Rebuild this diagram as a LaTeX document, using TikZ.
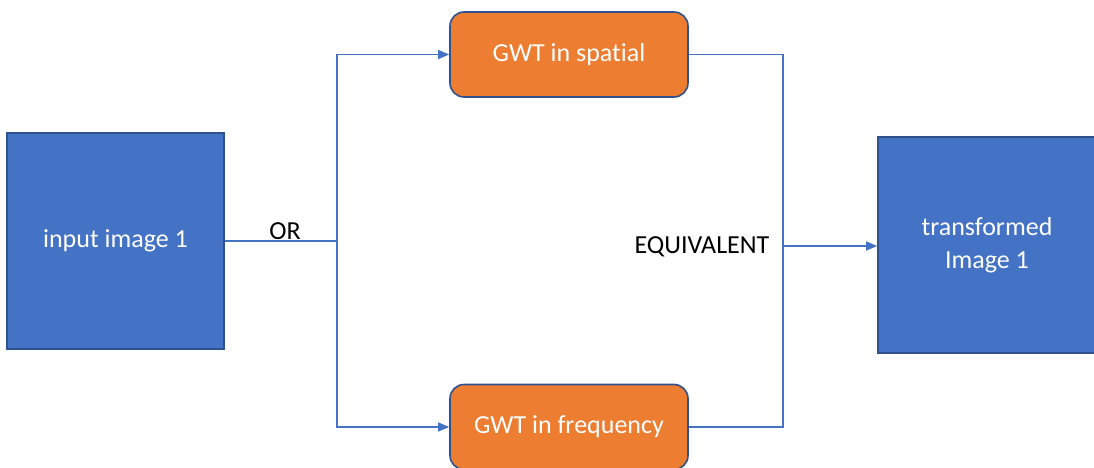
\documentclass[tikz,border=0pt]{standalone}
\usepackage{fontspec}
\setmainfont{Carlito}[Ligatures=NoCommon]
\usetikzlibrary{arrows.meta,positioning}
\definecolor{boxblue}{HTML}{4472C4}
\definecolor{edgeblue}{HTML}{2F528F}
\definecolor{boxorange}{HTML}{ED7D31}
\definecolor{lineblue}{HTML}{4472C4}
\begin{document}
\begin{tikzpicture}[x=1pt,y=-1pt,
  bluebox/.style={draw=edgeblue,line width=1.6pt,fill=boxblue,text=white,font=\fontsize{26}{33}\selectfont,align=center,inner sep=0pt},
  orangebox/.style={draw=edgeblue,line width=1.6pt,fill=boxorange,text=white,rounded corners=14pt,font=\fontsize{26}{33}\selectfont,minimum width=238pt,minimum height=85pt,inner sep=0pt},
  conn/.style={draw=lineblue,line width=1.1pt},
  arr/.style={conn,-{Triangle[length=11pt,width=9pt]}},
  lab/.style={font=\fontsize{26}{30}\selectfont,text=black,inner sep=0pt}]
\useasboundingbox (0,0) rectangle (1094,468);
\node[bluebox,minimum width=217pt,minimum height=216pt] (in) at (115.5,241) {input image 1};
\node[bluebox,minimum width=218pt,minimum height=216pt] (out) at (987,245) {transformed\\Image 1};
\node[orangebox] (sp) at (569,54.5) {GWT in spatial};
\node[orangebox] (fr) at (569,427) {GWT in frequency};
\coordinate (split) at (337,241);
\coordinate (merge) at (783,246);
\draw[conn] (in.east |- split) -- (split);
\draw[arr] (split) |- (sp.west);
\draw[arr] (split) |- (fr.west);
\draw[conn] (sp.east) -| (merge);
\draw[conn] (fr.east) -| (merge);
\draw[arr] (merge) -- (out.west |- merge);
\node[lab] (or) at (285,231) {OR};
\node[lab] (eq) at (702,247) {EQUIVALENT};
\end{tikzpicture}
\end{document}
